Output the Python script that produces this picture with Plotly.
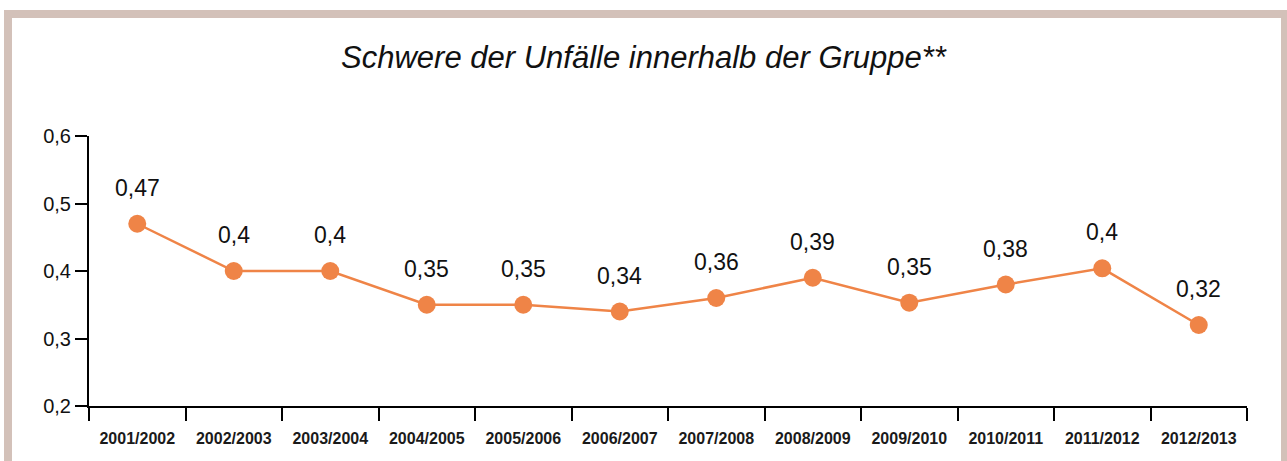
import plotly.graph_objects as go

# Data
seasons = ['2001/2002', '2002/2003', '2003/2004', '2004/2005', '2005/2006', '2006/2007',
           '2007/2008', '2008/2009', '2009/2010', '2010/2011', '2011/2012', '2012/2013']
severity = [0.47, 0.40, 0.40, 0.35, 0.35, 0.34, 0.36, 0.39, 0.353, 0.38, 0.404, 0.32]
labels = ['0,47', '0,4', '0,4', '0,35', '0,35', '0,34', '0,36', '0,39', '0,35', '0,38', '0,4', '0,32']
y_ticks = [0.2, 0.3, 0.4, 0.5, 0.6]
y_tick_text = ['0,2', '0,3', '0,4', '0,5', '0,6']

ORANGE = '#ef8447'
FRAME = '#d3c1b9'
FONT = 'Liberation Sans, Arial, sans-serif'

W, H = 1287, 461
M = dict(l=89, r=40, t=136, b=55)
pw = W - M['l'] - M['r']
ph = H - M['t'] - M['b']


def px_x(p):
    return (p - M['l']) / pw


def px_y(p):
    return (H - M['b'] - p) / ph


fig = go.Figure()
fig.add_trace(go.Scatter(
    x=seasons, y=severity,
    mode='lines+markers',
    line=dict(color=ORANGE, width=2.5),
    marker=dict(color=ORANGE, size=18),
    hoverinfo='skip',
    showlegend=False,
    cliponaxis=False,
))

for s, v, t in zip(seasons, severity, labels):
    fig.add_annotation(x=s, y=v, text=t, showarrow=False, yshift=36,
                       font=dict(size=23, color='#111111', family=FONT))

# frame around the chart (top, left, right)
fig.add_shape(type='rect', xref='paper', yref='paper',
              x0=px_x(8), x1=px_x(1285), y0=px_y(520), y1=px_y(14),
              line=dict(color=FRAME, width=8), fillcolor='rgba(0,0,0,0)', layer='below')

fig.update_layout(
    width=W, height=H,
    margin=M,
    plot_bgcolor='white',
    paper_bgcolor='white',
    font=dict(family=FONT, color='#111111'),
    title=dict(text='<i>Schwere der Unfälle innerhalb der Gruppe**</i>',
               x=0.5, xref='container', xanchor='center', y=1 - 57 / H, yanchor='middle',
               font=dict(size=31, family=FONT, color='#111111')),
    xaxis=dict(
        type='category', range=[-0.5, 11.5],
        tickson='boundaries', ticks='outside', ticklen=13, tickwidth=2, tickcolor='black',
        showline=True, linecolor='black', linewidth=2,
        showgrid=False, zeroline=False,
        ticklabelstandoff=17,
        tickfont=dict(size=16, family=FONT, color='#1a1a1a', weight='bold'),
    ),
    yaxis=dict(
        range=[0.2, 0.6], tickvals=y_ticks, ticktext=y_tick_text,
        ticks='outside', ticklen=12, tickwidth=2, tickcolor='black',
        showline=True, linecolor='black', linewidth=2,
        showgrid=False, zeroline=False,
        tickfont=dict(size=20, family=FONT, color='#111111'),
    ),
)

fig.write_html('out.html', config={'displayModeBar': False},
               post_script="document.body.style.margin='0';")
